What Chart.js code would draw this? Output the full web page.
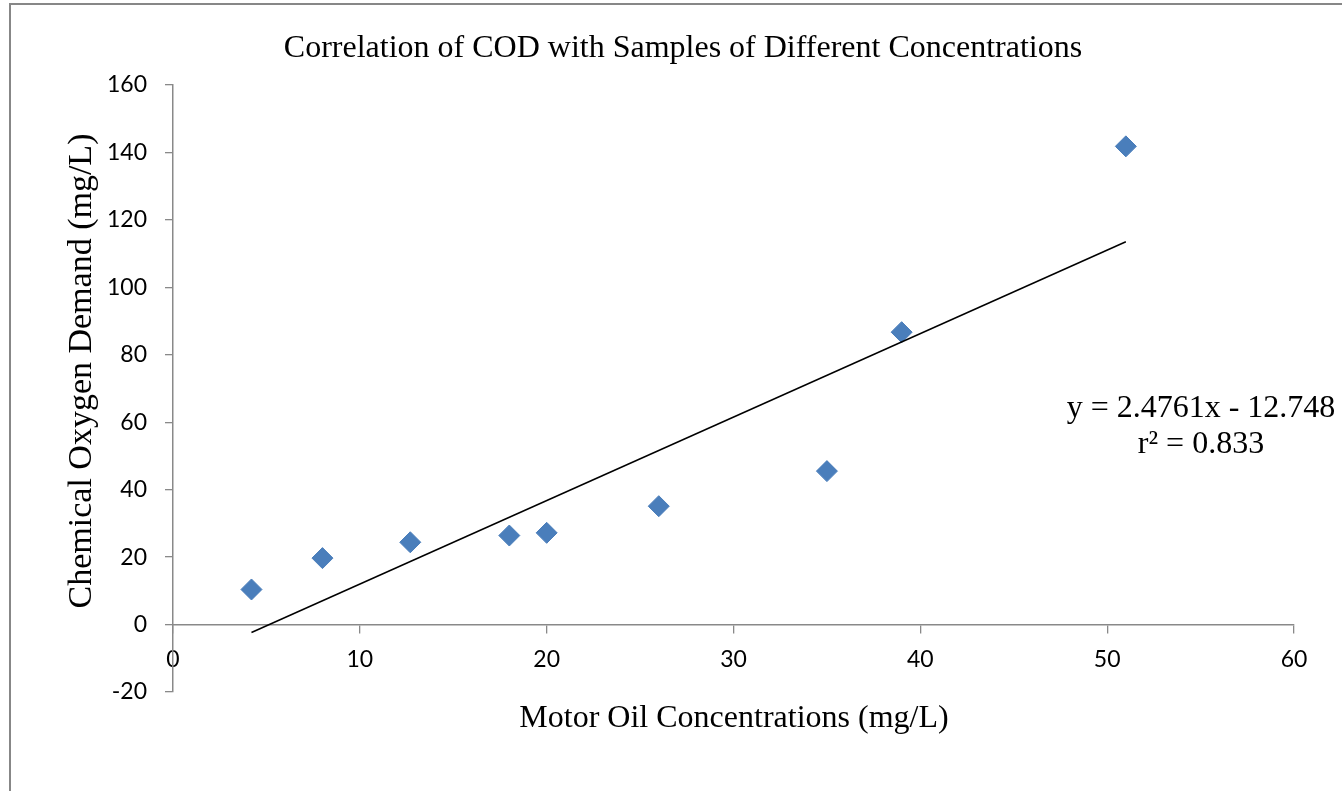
<!DOCTYPE html>
<html><head><meta charset="utf-8">
<script src="https://cdn.jsdelivr.net/npm/chart.js@4/dist/chart.umd.min.js"></script>
<style>html,body{margin:0;padding:0;background:#fff;overflow:hidden}#wrap{width:1342px;height:791px;position:relative}canvas{display:block}</style>
</head><body><div id="wrap"><canvas id="c" width="1342" height="791"></canvas></div>
<script>
// Data
const motorOil = [4.2, 8, 12.7, 18, 20, 26, 35, 39, 51];          // mg/L
const cod      = [10.4, 19.7, 24.4, 26.4, 27.2, 35.1, 45.5, 86.7, 141.8]; // mg/L
const trendX   = [4.2, 51];
const trendY   = [-2.35, 113.5];
const xRange   = [0, 60, 10];   // min, max, step
const yRange   = [-20, 160, 20];
const chartTitle = 'Correlation of COD with Samples of Different Concentrations';
const xTitle = 'Motor Oil Concentrations (mg/L)';
const yTitle = 'Chemical Oxygen Demand (mg/L)';
const eqLines = ['y = 2.4761x - 12.748', 'r\u00B2 = 0.833'];

const AXIS = '#898989';
const SERIF = '"Liberation Serif", "Times New Roman", serif';

const textPlugin = {
  id: 'texts',
  beforeDraw(chart) {
    const ctx = chart.ctx;
    ctx.save();
    ctx.fillStyle = '#fff';
    ctx.fillRect(0, 0, chart.width, chart.height);
    ctx.strokeStyle = '#878787';
    ctx.lineWidth = 2;
    ctx.beginPath();
    ctx.moveTo(10, 800);
    ctx.lineTo(10, 4);
    ctx.lineTo(1350, 4);
    ctx.stroke();
    ctx.restore();
  },
  afterDraw(chart) {
    const ctx = chart.ctx;
    ctx.save();
    ctx.fillStyle = '#000';
    ctx.textBaseline = 'alphabetic';
    ctx.textAlign = 'center';
    ctx.font = '32px ' + SERIF;
    ctx.fillText(chartTitle, 683, 57);
    ctx.fillText(xTitle, 734, 727);
    ctx.fillText(eqLines[0], 1201, 417);
    ctx.fillText(eqLines[1], 1201, 453);
    ctx.save();
    ctx.font = '34px ' + SERIF;
    ctx.translate(91, 371);
    ctx.rotate(-Math.PI / 2);
    ctx.fillText(yTitle, 0, 0);
    ctx.restore();
    ctx.restore();
  }
};

const tickFont = { family: 'Lato, "Open Sans", sans-serif', size: 23 };

new Chart(document.getElementById('c'), {
  type: 'scatter',
  data: {
    datasets: [
      {
        label: 'Linear trend',
        data: trendX.map((x, i) => ({ x, y: trendY[i] })),
        showLine: true,
        borderColor: '#000',
        borderWidth: 1.5,
        pointRadius: 0,
        order: 0
      },
      {
        label: 'COD',
        data: motorOil.map((x, i) => ({ x, y: cod[i] })),
        pointStyle: 'rectRot',
        pointRadius: 10.5,
        backgroundColor: '#4a7ebb',
        borderColor: '#4a7ebb',
        borderWidth: 1,
        order: 1
      }
    ]
  },
  options: {
    responsive: false,
    animation: false,
    devicePixelRatio: 1,
    layout: { padding: { top: 85, right: 48, bottom: 99, left: 0 } },
    plugins: { legend: { display: false }, tooltip: { enabled: false }, title: { display: false } },
    scales: {
      x: {
        type: 'linear',
        min: xRange[0], max: xRange[1],
        position: { y: 0 },
        ticks: { stepSize: xRange[2], font: tickFont, color: '#000', padding: 13, maxRotation: 0 },
        grid: { drawOnChartArea: false, drawTicks: true, tickLength: 8, color: AXIS, lineWidth: 1.3 },
        border: { color: AXIS, width: 1.5 },
        afterFit(s) { s.height = 0; }
      },
      y: {
        type: 'linear',
        min: yRange[0], max: yRange[1],
        position: 'left',
        ticks: { stepSize: yRange[2], font: tickFont, color: '#000', padding: 18 },
        grid: { drawOnChartArea: false, drawTicks: true, tickLength: 8, color: AXIS, lineWidth: 1.3 },
        border: { color: AXIS, width: 1.5 },
        afterFit(s) { s.width = 173; }
      }
    }
  },
  plugins: [textPlugin]
});
</script>
</body></html>
